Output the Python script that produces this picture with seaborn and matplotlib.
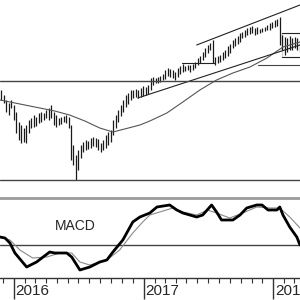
import matplotlib
matplotlib.use("Agg")
import matplotlib.pyplot as plt
import matplotlib.dates as mdates
import matplotlib.transforms as mtransforms
import seaborn as sns
import pandas as pd

# ---------------- data ----------------
bar_start = "2015-11-20"  # first weekly bar
highs = [108, 110, 105, 100, 97, 100, 95, 88, 78, 75, 72, 75, 80, 82, 85, 83, 87, 88, 87, 90,
         92, 95, 88, 85, 82, 83, 84, 85, 83, 75, 55, 45, 50, 55, 58, 60, 59, 62, 63, 62,
         61, 57, 60, 65, 68, 70, 80, 85, 90, 95, 100, 105, 107, 110, 110, 111, 110, 112, 114, 113,
         115, 122, 123, 122, 123, 124, 126, 130, 132, 131, 130, 128, 132, 134, 136, 134, 135, 135, 136, 138,
         142, 144, 148, 152, 155, 157, 160, 143, 144, 145, 148, 150, 154, 156, 160, 162, 164, 167, 168, 170,
         172, 173, 174, 172, 173, 171, 172, 173, 175, 177, 178, 180, 181, 183, 165, 163, 162, 164, 162, 163,
         162, 160]
lows = [98, 100, 97, 88, 85, 92, 80, 67, 60, 57, 58, 57, 67, 72, 73, 74, 77, 78, 80, 82,
        80, 82, 75, 73, 75, 76, 78, 77, 72, 40, 35, 20, 30, 42, 48, 50, 51, 52, 54, 53,
        50, 48, 50, 52, 55, 58, 65, 72, 78, 84, 88, 93, 96, 100, 102, 103, 102, 103, 104, 105,
        106, 110, 115, 117, 117, 118, 120, 121, 124, 123, 122, 120, 123, 126, 128, 129, 130, 128, 130, 132,
        135, 137, 140, 143, 147, 150, 137, 135, 137, 138, 140, 142, 144, 147, 152, 154, 156, 158, 162, 163,
        165, 166, 167, 165, 166, 167, 168, 169, 170, 170, 172, 173, 174, 155, 150, 145, 148, 150, 150, 152,
        150, 148]

ma_dates = ["2015-11-23", "2016-01-18", "2016-03-14", "2016-04-25", "2016-06-06", "2016-07-19",
            "2016-08-30", "2016-10-06", "2016-11-08", "2016-12-21", "2017-01-18", "2017-03-07",
            "2017-04-21", "2017-06-08", "2017-07-25", "2017-09-09", "2017-10-27", "2017-12-14",
            "2018-01-28", "2018-03-17"]
ma_values = [100, 96, 92, 89, 85, 79, 72, 68, 71, 75, 79, 87, 98, 110, 120, 127, 133, 142, 153, 158]

macd_dates = ["2015-11-23", "2015-12-07", "2015-12-21", "2016-01-04", "2016-02-06", "2016-03-05",
              "2016-04-11", "2016-04-25", "2016-05-29", "2016-06-12", "2016-07-05", "2016-08-02",
              "2016-08-30", "2016-09-19", "2016-10-06", "2016-11-03", "2016-12-01", "2016-12-21",
              "2017-01-18", "2017-02-07", "2017-03-15", "2017-04-04", "2017-04-21", "2017-05-30",
              "2017-06-16", "2017-07-11", "2017-07-25", "2017-08-08", "2017-09-09", "2017-09-29",
              "2017-10-18", "2017-11-15", "2017-11-30", "2017-12-17", "2018-01-11", "2018-01-19",
              "2018-01-28", "2018-02-16", "2018-03-08", "2018-03-17"]
macd_values = [8, 7, 2, -8, -22, -17, -7, -8, -8, -12, -25, -22, -17, -15, -7, 5, 23, 28,
               32, 38, 40, 35, 32, 28, 30, 40, 33, 25, 25, 30, 37, 40, 40, 35, 35, 38,
               30, 18, 8, 0]

signal_dates = ["2015-11-23", "2015-12-21", "2016-01-18", "2016-02-23", "2016-04-03", "2016-05-09",
                "2016-06-12", "2016-07-05", "2016-08-02", "2016-09-19", "2016-10-25", "2016-12-01",
                "2016-12-29", "2017-01-18", "2017-02-15", "2017-03-24", "2017-04-21", "2017-05-30",
                "2017-06-30", "2017-07-25", "2017-08-31", "2017-10-07", "2017-11-15", "2017-12-22",
                "2018-01-19", "2018-02-16", "2018-03-17"]
signal_values = [8, 5, -5, -13, -12, -8, -8, -17, -20, -15, -5, 12, 23, 30, 33, 37, 33, 30,
                 35, 32, 27, 32, 38, 37, 37, 28, 17]

# trend / support lines: (start date, start value, end date, end value)
upper_channel = ("2017-05-30", 155, "2018-03-17", 195)
lower_trend = ("2016-12-15", 102, "2018-03-17", 155)
support_level = 119
bottom_level = 20
resistance_seg = ("2017-04-18", "2017-07-20", 137)
late_seg = ("2017-11-18", "2018-03-17", 135)
box = ("2018-01-25", "2018-03-17", 143, 167)

year_labels = ["2016", "2017", "2018"]
x_range = ("2015-11-23", "2018-03-17")

# ---------------- drawing ----------------
sns.set_style("white")
plt.rcParams["font.family"] = ["Liberation Sans", "DejaVu Sans"]

fig = plt.figure(figsize=(3, 3), dpi=100)
ax = fig.add_axes([0, 1 - 197 / 300, 1, 197 / 300])
ax2 = fig.add_axes([0, 22 / 300, 1, 80 / 300], sharex=ax)

bar_dates = pd.date_range(bar_start, periods=len(highs), freq="7D")
ax.vlines(bar_dates, lows, highs, color="#1a1a1a", lw=0.9)

ma_df = pd.DataFrame({"date": pd.to_datetime(ma_dates), "v": ma_values})
sns.lineplot(data=ma_df, x="date", y="v", ax=ax, color="#555555", lw=0.8)

def seg(a, d0, v0, d1, v1, **kw):
    df = pd.DataFrame({"date": pd.to_datetime([d0, d1]), "v": [v0, v1]})
    sns.lineplot(data=df, x="date", y="v", ax=a, **kw)

seg(ax, *upper_channel, color="#222222", lw=0.8)
seg(ax, *lower_trend, color="#222222", lw=0.8)
seg(ax, x_range[0], support_level, x_range[1], support_level, color="#444444", lw=1.0)
seg(ax, x_range[0], bottom_level, x_range[1], bottom_level, color="#444444", lw=1.0)
seg(ax, resistance_seg[0], resistance_seg[2], resistance_seg[1], resistance_seg[2], color="#222222", lw=0.8)
seg(ax, late_seg[0], late_seg[2], late_seg[1], late_seg[2], color="#444444", lw=0.8)
seg(ax, box[0], box[2], box[1], box[2], color="#222222", lw=0.8)
seg(ax, box[0], box[3], box[1], box[3], color="#222222", lw=0.8)
seg(ax, box[0], box[2], box[0], box[3], color="#222222", lw=0.8)

ax.set_ylim(3, 200)
ax.set_yticks([])
ax.set_xlabel("")
ax.set_ylabel("")
for s in ax.spines.values():
    s.set_visible(False)
ax.tick_params(which="both", bottom=False, labelbottom=False)

# MACD panel
sig_df = pd.DataFrame({"date": pd.to_datetime(signal_dates), "v": signal_values})
macd_df = pd.DataFrame({"date": pd.to_datetime(macd_dates), "v": macd_values})
seg(ax2, x_range[0], 0, x_range[1], 0, color="#444444", lw=1.0)
sns.lineplot(data=sig_df, x="date", y="v", ax=ax2, color="#8a8a8a", lw=0.8)
sns.lineplot(data=macd_df, x="date", y="v", ax=ax2, color="#000000", lw=2.0)
ax2.set_ylim(-33, 47)
ax2.set_yticks([])
ax2.set_xlabel("")
ax2.set_ylabel("")
ax2.text(0.25, 0.65, "MACD", transform=ax2.transAxes, ha="center", va="center", fontsize=10)

for k in ("left", "right"):
    ax2.spines[k].set_visible(False)
ax2.spines["top"].set_color("#9a9a9a")
ax2.spines["top"].set_linewidth(2)
ax2.spines["bottom"].set_color("#333333")
ax2.spines["bottom"].set_linewidth(1)

ax2.xaxis.set_major_locator(mdates.YearLocator())
ax2.xaxis.set_minor_locator(mdates.MonthLocator())
ax2.tick_params(axis="x", which="major", length=15, width=1, color="#333333", direction="out", bottom=True)
ax2.tick_params(axis="x", which="minor", length=3.6, width=0.8, color="#333333", direction="out", bottom=True)
ax2.tick_params(axis="x", labelbottom=False)
ax2.set_xlim(pd.Timestamp(x_range[0]), pd.Timestamp(x_range[1]))

trans = mtransforms.blended_transform_factory(ax2.transData, ax2.transAxes)
for lab in year_labels:
    ax2.annotate(lab, xy=(mdates.date2num(pd.Timestamp(lab + "-01-01")), -0.165),
                 xycoords=trans, xytext=(1.2, 0), textcoords="offset points",
                 ha="left", va="center", fontsize=11, annotation_clip=False)

fig.savefig("out.png", dpi=100)
